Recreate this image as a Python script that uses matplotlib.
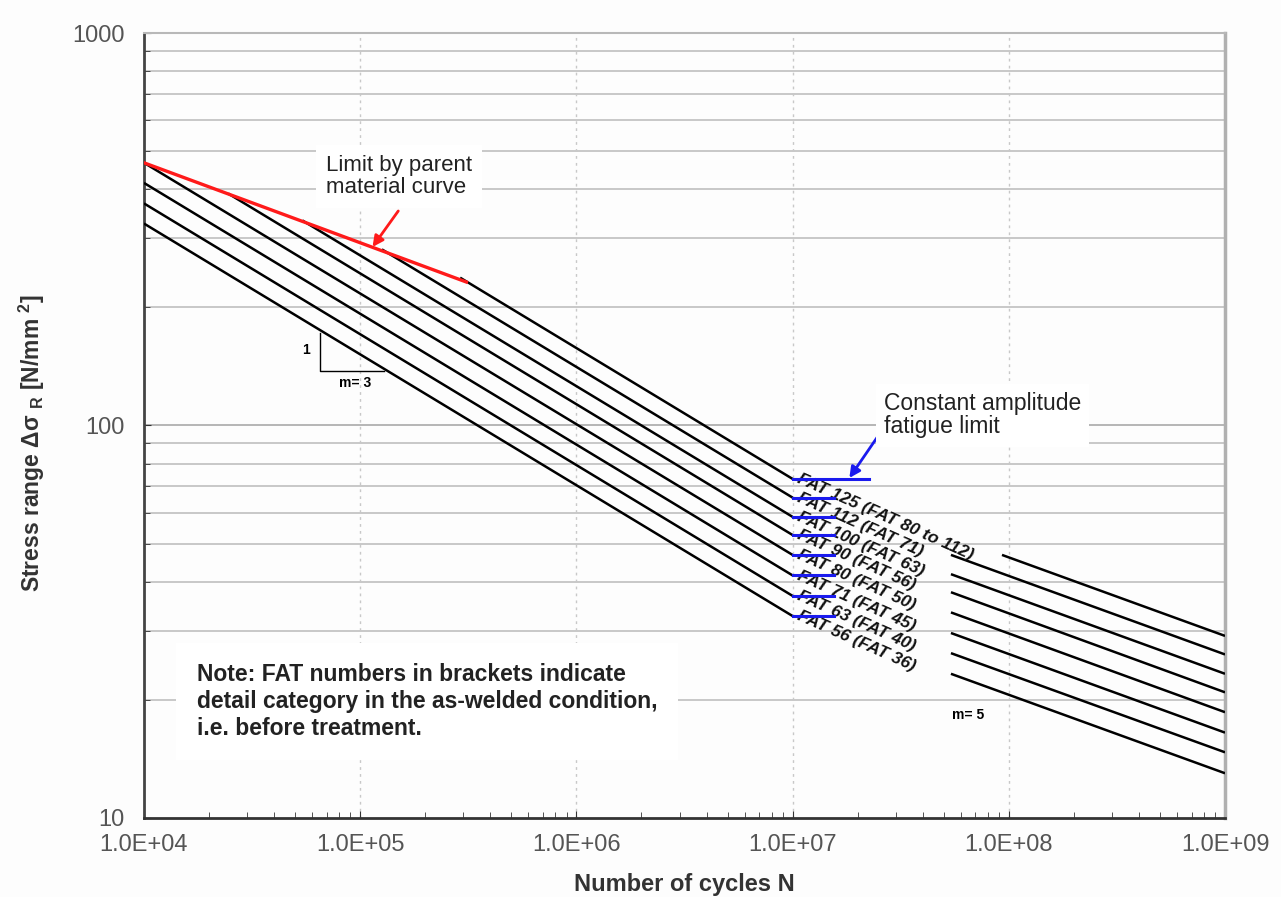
import numpy as np
import matplotlib
matplotlib.use("Agg")
import matplotlib.pyplot as plt

plt.rcParams['font.family'] = ['Liberation Sans', 'DejaVu Sans']
plt.rcParams['mathtext.fontset'] = 'custom'
plt.rcParams['mathtext.rm'] = 'Liberation Sans'
plt.rcParams['mathtext.bf'] = 'Liberation Sans:bold'

# ----------------------------
# Data
# ----------------------------

fat_classes = [125, 112, 100, 90, 80, 71, 63, 56]
as_welded = ["FAT 80 to 112", "FAT 71", "FAT 63", "FAT 56",
             "FAT 50", "FAT 45", "FAT 40", "FAT 36"]

# m = 3 part: start (on parent curve or left edge) -> knee at 1e7
start_n = [2.9e5, 1.26e5, 5.4e4, 2.45e4, 1e4, 1e4, 1e4, 1e4]
start_s = [238, 281, 333, 390, 467, 415, 368, 327]
knee_n = 1e7
knee_s = [73.1, 65.5, 58.5, 52.6, 46.8, 41.5, 36.8, 32.7]

# m = 5 part: visible after the labels -> 1e9
tail_n = [9.3e7, 5.4e7, 5.4e7, 5.4e7, 5.4e7, 5.4e7, 5.4e7, 5.4e7]
tail_s = [46.8, 46.8, 41.8, 37.6, 33.4, 29.6, 26.3, 23.3]
end_n = 1e9
end_s = [29.1, 26.1, 23.3, 20.9, 18.6, 16.5, 14.7, 13.0]

# constant amplitude fatigue limit markers
cafl_end_n = [2.25e7, 1.55e7, 1.55e7, 1.55e7, 1.55e7, 1.55e7, 1.55e7, 1.55e7]

# parent material limit
parent_n = [1e4, 3.1e5]
parent_s = [467, 232]

# slope triangle m=3
tri_n = [6.5e4, 6.5e4, 1.29e5]
tri_s = [172, 138, 138]

x_ticks = [1e4, 1e5, 1e6, 1e7, 1e8, 1e9]
x_tick_labels = ["1.0E+04", "1.0E+05", "1.0E+06", "1.0E+07", "1.0E+08", "1.0E+09"]
y_ticks = [10, 100, 1000]
y_tick_labels = ["10", "100", "1000"]

# ----------------------------
# Plot
# ----------------------------

fig = plt.figure(figsize=(12.81, 8.97), dpi=100, facecolor="#fdfdfd")
ax = fig.add_axes([0.1124, 0.0881, 0.8439, 0.8751])
ax.set_facecolor("#fdfdfd")
ax.set_xscale("log")
ax.set_yscale("log")
ax.set_xlim(1e4, 1e9)
ax.set_ylim(10, 1000)

# grid
for d in [10, 100]:
    for k in range(2, 10):
        ax.axhline(d * k, color="#c4c4c4", lw=1.3, zorder=0)
ax.axhline(100, color="#b0b0b0", lw=1.3, zorder=0)
for xv in x_ticks[1:-1]:
    ax.axvline(xv, color="#c8c8c8", lw=1.0, ls=(0, (2, 3)), zorder=0)

# S-N curves
for i in range(len(fat_classes)):
    ax.plot([start_n[i], knee_n], [start_s[i], knee_s[i]],
            color="black", lw=1.8, solid_capstyle="butt", zorder=3)
    ax.plot([tail_n[i], end_n], [tail_s[i], end_s[i]],
            color="black", lw=1.8, solid_capstyle="butt", zorder=3)

ax.plot(parent_n, parent_s, color="#ff1a1a", lw=2.4, zorder=4)

# labels along the knee
for i in range(len(fat_classes)):
    ax.text(1.1e7, knee_s[i] * 1.045,
            "FAT %d (%s)" % (fat_classes[i], as_welded[i]),
            rotation=-24, rotation_mode="anchor", ha="left", va="top",
            fontsize=12.5, fontweight="bold", fontstyle="italic",
            family=["Liberation Sans Narrow", "Liberation Sans"],
            color="#111111", zorder=4)

for i in range(len(fat_classes)):
    ax.plot([knee_n, cafl_end_n[i]], [knee_s[i], knee_s[i]],
            color="#1a1aee", lw=2.2, zorder=5)

# slope triangle
ax.plot(tri_n, tri_s, color="black", lw=1.0, zorder=3)
ax.text(5.6e4, 156, "1", fontsize=10, fontweight="bold", ha="center", va="center")
ax.text(9.5e4, 128, "m= 3", fontsize=10, fontweight="bold", ha="center", va="center")
ax.text(6.5e7, 18.3, "m= 5", fontsize=10, fontweight="bold", ha="center", va="center")

# annotations
ax.text(6.97e4, 489, "Limit by parent\nmaterial curve", fontsize=16,
        color="#222222", ha="left", va="top", linespacing=1.08,
        bbox=dict(boxstyle="square,pad=0.45", fc="white", ec="none"), zorder=6)
ax.annotate("", xy=(1.14e5, 285), xytext=(1.5e5, 352),
            arrowprops=dict(arrowstyle="-|>", color="#ff1a1a", lw=2.0,
                            mutation_scale=16, shrinkA=0, shrinkB=0),
            zorder=6)

ax.annotate("", xy=(1.83e7, 73.5), xytext=(2.55e7, 96),
            arrowprops=dict(arrowstyle="-|>", color="#1a1aee", lw=2.0,
                            mutation_scale=16, shrinkA=0, shrinkB=0),
            zorder=6)
ax.text(2.65e7, 122, "Constant amplitude\nfatigue limit", fontsize=16.5,
        color="#222222", ha="left", va="top", linespacing=1.05,
        bbox=dict(boxstyle="square,pad=0.35", fc="white", ec="none"), zorder=6)

ax.text(1.75e4, 19.8,
        "Note: FAT numbers in brackets indicate\n"
        "detail category in the as-welded condition,\n"
        "i.e. before treatment.",
        fontsize=16.5, fontweight="bold", color="#222222", ha="left", va="center",
        linespacing=1.2,
        bbox=dict(boxstyle="square,pad=0.9", fc="white", ec="none"), zorder=6)

# axes styling
ax.set_xticks(x_ticks)
ax.set_xticklabels(x_tick_labels)
ax.set_yticks(y_ticks)
ax.set_yticklabels(y_tick_labels)
ax.tick_params(axis="both", which="major", direction="in", length=5,
               labelsize=17, labelcolor="#555555", color="#333333")
ax.tick_params(axis="x", which="major", pad=11.5)
ax.tick_params(axis="y", which="major", pad=14)
ax.tick_params(axis="both", which="minor", direction="in", length=4, color="#333333")
ax.tick_params(axis="y", which="both", right=False)
ax.tick_params(axis="x", which="both", top=False)

ax.spines["left"].set_color("#444444")
ax.spines["left"].set_linewidth(2)
ax.spines["bottom"].set_color("#333333")
ax.spines["bottom"].set_linewidth(2)
ax.spines["top"].set_color("#b8b8b8")
ax.spines["top"].set_linewidth(1.5)
ax.spines["right"].set_color("#b0b0b0")
ax.spines["right"].set_linewidth(2.5)

ax.set_xlabel("Number of cycles N", fontsize=17, fontweight="bold", color="#333333")
ax.set_ylabel(r"Stress range $\mathbf{\Delta\sigma}$ $_{\mathbf{R}}$ [N/mm $^{\mathbf{2}}$]",
              fontsize=16.5, fontweight="bold", color="#333333")
ax.xaxis.set_label_coords(0.5, -0.07)
ax.yaxis.set_label_coords(-0.09, 0.478)

plt.savefig("out.png", dpi=100, facecolor=fig.get_facecolor())
